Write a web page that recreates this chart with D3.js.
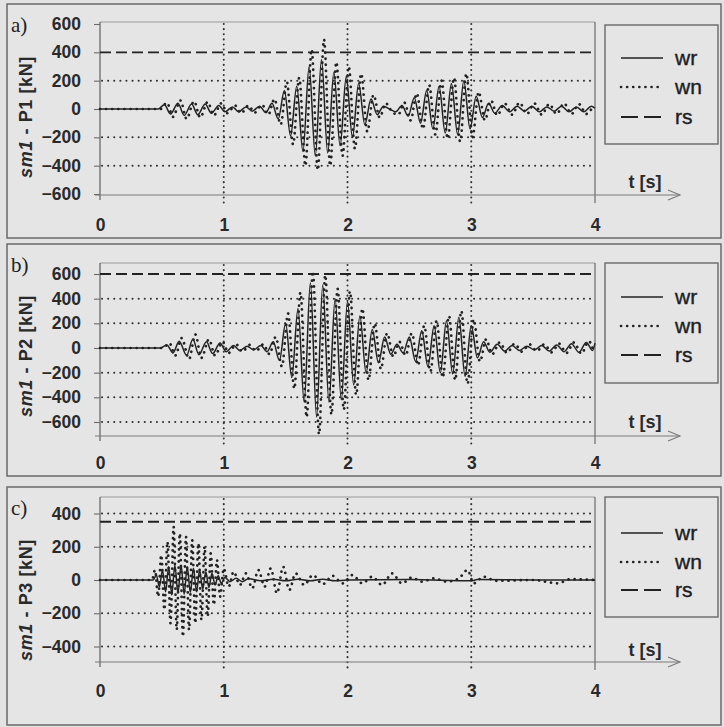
<!DOCTYPE html>
<html><head><meta charset="utf-8">
<script src="https://cdn.jsdelivr.net/npm/d3@7/dist/d3.min.js"></script>
<style>
html,body{margin:0;padding:0;background:#e3e3e3;}
svg{display:block;}
</style></head>
<body>
<script>
// ---------- DATA ----------
const xTicks = [0, 1, 2, 3, 4];
const xGrid = [1, 2, 3];
const legendLabels = ["wr", "wn", "rs"];
const panelLetters = ["a)", "b)", "c)"];
const panelNames = ["P1", "P2", "P3"];

const yTicksP1 = [600, 400, 200, 0, -200, -400, -600];
const yTicksP2 = [600, 400, 200, 0, -200, -400, -600];
const yTicksP3 = [400, 200, 0, -200, -400];
const yGridP1 = [200, -200, -400];
const yGridP2 = [400, 200, -200, -400, -600];
const yGridP3 = [400, 200, -200, -400];
const rsValues = [400, 600, 350];

// [t (s), force (kN)]
const P1_wr = [[0,0],[0.47,0],[0.52,30],[0.57,-35],[0.63,40],[0.68,-45],[0.74,35],[0.79,-40],[0.85,35],[0.90,-30],[0.96,25],[1.01,-20],[1.07,15],[1.12,-20],[1.18,15],[1.23,-15],[1.29,20],[1.34,-25],[1.39,40],[1.44,-70],[1.49,130],[1.54,-190],[1.59,160],[1.64,-300],[1.69,300],[1.74,-330],[1.79,350],[1.84,-310],[1.89,260],[1.94,-260],[1.99,230],[2.04,-200],[2.09,180],[2.14,-110],[2.19,70],[2.24,-40],[2.29,20],[2.34,0],[2.39,-20],[2.44,25],[2.49,-50],[2.54,80],[2.59,-100],[2.64,130],[2.69,-140],[2.74,160],[2.79,-170],[2.84,180],[2.89,-180],[2.94,200],[2.99,-140],[3.04,90],[3.09,-60],[3.14,40],[3.19,-30],[3.25,25],[3.31,-20],[3.37,20],[3.43,-15],[3.49,20],[3.55,-20],[3.61,15],[3.67,-15],[3.73,20],[3.79,-20],[3.85,15],[3.91,-20],[3.97,20],[4.0,5]];
const P1_wn = [[0,0],[0.49,0],[0.54,45],[0.59,-55],[0.65,60],[0.70,-70],[0.76,55],[0.81,-60],[0.87,50],[0.92,-45],[0.98,40],[1.03,-30],[1.09,25],[1.14,-30],[1.20,25],[1.25,-25],[1.31,30],[1.36,-40],[1.41,70],[1.46,-110],[1.51,190],[1.56,-250],[1.61,220],[1.66,-400],[1.71,420],[1.76,-430],[1.81,490],[1.86,-400],[1.91,330],[1.96,-330],[2.01,300],[2.06,-280],[2.11,250],[2.16,-160],[2.21,100],[2.26,-60],[2.31,40],[2.36,-20],[2.41,-40],[2.46,45],[2.51,-80],[2.56,110],[2.61,-140],[2.66,170],[2.71,-180],[2.76,200],[2.81,-210],[2.86,220],[2.91,-230],[2.96,250],[3.01,-200],[3.06,120],[3.11,-80],[3.16,60],[3.21,-45],[3.27,40],[3.33,-40],[3.39,45],[3.45,-35],[3.51,40],[3.57,-40],[3.63,35],[3.69,-35],[3.75,40],[3.81,-35],[3.87,35],[3.93,-35],[3.99,30]];

const P2_wr = [[0,0],[0.49,0],[0.54,25],[0.59,-40],[0.64,55],[0.70,-60],[0.75,70],[0.80,-55],[0.86,50],[0.91,-45],[0.97,40],[1.02,-30],[1.08,20],[1.13,-20],[1.19,15],[1.24,-15],[1.30,20],[1.35,-30],[1.40,50],[1.45,-100],[1.50,200],[1.55,-240],[1.60,320],[1.65,-440],[1.70,530],[1.75,-560],[1.80,510],[1.85,-440],[1.90,400],[1.95,-420],[2.00,380],[2.05,-300],[2.10,260],[2.15,-200],[2.20,150],[2.25,-120],[2.30,90],[2.35,-50],[2.40,30],[2.45,-40],[2.50,90],[2.55,-110],[2.60,140],[2.65,-150],[2.70,180],[2.75,-200],[2.80,220],[2.85,-210],[2.90,250],[2.95,-230],[3.00,180],[3.05,-80],[3.10,50],[3.15,-35],[3.21,30],[3.27,-25],[3.33,20],[3.39,-20],[3.45,15],[3.51,-15],[3.57,20],[3.63,-25],[3.69,25],[3.75,-30],[3.81,35],[3.87,-35],[3.93,45],[3.98,-20],[4.0,40]];
const P2_wn = [[0,0],[0.51,0],[0.56,40],[0.61,-60],[0.66,80],[0.72,-90],[0.77,110],[0.82,-80],[0.88,70],[0.93,-60],[0.99,50],[1.04,-40],[1.10,30],[1.15,-30],[1.21,25],[1.26,-25],[1.32,30],[1.37,-50],[1.42,90],[1.47,-150],[1.52,280],[1.57,-330],[1.62,450],[1.67,-560],[1.72,620],[1.77,-700],[1.82,590],[1.87,-540],[1.92,480],[1.97,-500],[2.02,460],[2.07,-380],[2.12,320],[2.17,-260],[2.22,200],[2.27,-170],[2.32,120],[2.37,-70],[2.42,50],[2.47,-60],[2.52,120],[2.57,-140],[2.62,180],[2.67,-190],[2.72,220],[2.77,-240],[2.82,260],[2.87,-260],[2.92,300],[2.97,-290],[3.02,230],[3.07,-110],[3.12,70],[3.17,-50],[3.23,45],[3.29,-40],[3.35,35],[3.41,-30],[3.47,30],[3.53,-25],[3.59,30],[3.65,-35],[3.71,35],[3.77,-40],[3.83,45],[3.89,-45],[3.95,55],[3.99,-30]];

const P3_wr = [[0,0],[0.43,0],[0.455,30],[0.48,-40],[0.505,60],[0.53,-70],[0.555,80],[0.58,-90],[0.605,90],[0.63,-80],[0.655,90],[0.68,-85],[0.705,80],[0.73,-75],[0.755,70],[0.78,-70],[0.805,60],[0.83,-55],[0.855,50],[0.88,-45],[0.905,40],[0.93,-30],[0.955,25],[0.98,-20],[1.01,15],[1.05,-10],[1.10,10],[1.15,-10],[1.20,8],[1.30,-5],[1.40,5],[1.50,-5],[1.60,5],[1.70,-5],[1.80,5],[1.90,-5],[2.0,0],[2.5,3],[3.0,-5],[3.05,3],[3.5,0],[4.0,0]];
const P3_wn = [[0,0],[0.42,0],[0.445,60],[0.47,-100],[0.495,150],[0.52,-180],[0.545,230],[0.57,-260],[0.595,320],[0.62,-300],[0.645,280],[0.67,-340],[0.695,260],[0.72,-300],[0.745,240],[0.77,-260],[0.795,220],[0.82,-240],[0.845,200],[0.87,-220],[0.895,160],[0.92,-150],[0.945,120],[0.97,-100],[1.00,70],[1.04,-40],[1.08,50],[1.13,-30],[1.18,40],[1.23,-50],[1.28,60],[1.33,-40],[1.38,70],[1.43,-80],[1.48,80],[1.53,-60],[1.58,40],[1.65,-30],[1.72,30],[1.80,-25],[1.88,25],[1.96,-20],[2.04,30],[2.12,-20],[2.20,20],[2.28,-30],[2.36,40],[2.44,-20],[2.52,15],[2.60,-10],[2.70,10],[2.80,-10],[2.90,10],[2.97,60],[3.02,-20],[3.10,20],[3.20,-5],[3.5,0],[3.70,-20],[3.80,5],[4.0,0]];

// ---------- DRAW ----------
const W = 724, H = 727;
const svg = d3.select("body").append("svg").attr("width", W).attr("height", H);
svg.append("rect").attr("width", W).attr("height", H).attr("fill", "#e3e3e3");

const INK = "#222", GRID = "#333", FRAME = "#6a6a6a";
const FONT = "'Liberation Sans', Arial, sans-serif";

const panels = [
  {box:[7,4,721,238], yDom:[-600,600], yRange:[194,24], top:22, axisY:195, labY:225, titleY:117,
   legend:[605,25,718,144], legRows:[58,87,117], tlab:[645,188],
   ticks:yTicksP1, grid:yGridP1, rs:rsValues[0], wr:P1_wr, wn:P1_wn},
  {box:[7,244,721,476], yDom:[-600,600], yRange:[422,274], top:263, axisY:436, labY:463, titleY:356,
   legend:[605,263,718,383], legRows:[297,326,355], tlab:[645,428],
   ticks:yTicksP2, grid:yGridP2, rs:rsValues[1], wr:P2_wr, wn:P2_wn},
  {box:[7,487,721,725], yDom:[-400,400], yRange:[646.5,513.5], top:497, axisY:662, labY:691, titleY:600,
   legend:[605,497,718,617], legRows:[533,562,590], tlab:[645,656],
   ticks:yTicksP3, grid:yGridP3, rs:rsValues[2], wr:P3_wr, wn:P3_wn}
];

const x = d3.scaleLinear().domain([0,4]).range([100,595]);

panels.forEach((p, i) => {
  const g = svg.append("g");
  const [bx0,by0,bx1,by1] = p.box;
  g.append("rect").attr("x",bx0).attr("y",by0).attr("width",bx1-bx0).attr("height",by1-by0)
    .attr("fill","#e5e5e5").attr("stroke",FRAME).attr("stroke-width",1.5);

  const y = d3.scaleLinear().domain(p.yDom).range(p.yRange);

  g.append("line").attr("x1",100).attr("x2",595).attr("y1",p.top).attr("y2",p.top)
    .attr("stroke","#9a9a9a").attr("stroke-width",1);

  g.selectAll(".hg").data(p.grid).enter().append("line")
    .attr("x1",102).attr("x2",593).attr("y1",d=>y(d)).attr("y2",d=>y(d))
    .attr("stroke",GRID).attr("stroke-width",2).attr("stroke-dasharray","0.1,6")
    .attr("stroke-linecap","round");

  g.selectAll(".vg").data(xGrid).enter().append("line")
    .attr("x1",d=>x(d)).attr("x2",d=>x(d)).attr("y1",p.top+2).attr("y2",p.axisY+8)
    .attr("stroke",GRID).attr("stroke-width",2).attr("stroke-dasharray","0.1,5")
    .attr("stroke-linecap","round");

  g.append("line").attr("x1",x(4)).attr("x2",x(4)).attr("y1",p.top).attr("y2",p.axisY+8)
    .attr("stroke",FRAME).attr("stroke-width",1.2);

  g.append("line").attr("x1",100).attr("x2",100).attr("y1",p.top).attr("y2",p.axisY+5)
    .attr("stroke",FRAME).attr("stroke-width",1.3);

  g.append("line").attr("x1",95).attr("x2",680).attr("y1",p.axisY).attr("y2",p.axisY)
    .attr("stroke","#7a7a7a").attr("stroke-width",1.2);
  g.append("path").attr("d",`M668,${p.axisY-5}L680,${p.axisY}L668,${p.axisY+5}`)
    .attr("fill","none").attr("stroke","#7a7a7a").attr("stroke-width",1.1);

  const ya = g.append("g").attr("transform","translate(100,0)")
    .call(d3.axisLeft(y).tickValues(p.ticks).tickSize(6).tickPadding(13).tickFormat(d3.format("d")));
  ya.select(".domain").remove();
  ya.selectAll("line").attr("stroke",FRAME).attr("stroke-width",1.1);
  ya.selectAll("text").attr("font-family",FONT).attr("font-size",17.5).attr("font-weight","bold")
    .attr("fill","#2a2a2a");

  const xa = g.append("g").attr("transform",`translate(0,${p.labY})`)
    .call(d3.axisBottom(x).tickValues(xTicks).tickSize(0).tickPadding(0).tickFormat(d3.format("d")));
  xa.select(".domain").remove();
  xa.selectAll("text").attr("dy","0.35em").attr("font-family",FONT).attr("font-size",17.5)
    .attr("font-weight","bold").attr("fill","#2a2a2a");

  g.append("line").attr("x1",x(0)).attr("x2",x(4)).attr("y1",y(p.rs)).attr("y2",y(p.rs))
    .attr("stroke",INK).attr("stroke-width",1.9).attr("stroke-dasharray","11,5");

  const line = d3.line().x(d=>x(d[0])).y(d=>y(d[1])).curve(d3.curveMonotoneX);

  g.append("path").datum(p.wn).attr("d",line).attr("fill","none")
    .attr("stroke",INK).attr("stroke-width",2.7).attr("stroke-dasharray","0.1,6")
    .attr("stroke-linecap","round");
  g.append("path").datum(p.wr).attr("d",line).attr("fill","none")
    .attr("stroke",INK).attr("stroke-width",1.5);

  g.append("text").attr("x",11).attr("y",p.box[1]+28).text(panelLetters[i])
    .attr("font-family","'Liberation Serif','Times New Roman',serif").attr("font-size",21).attr("fill","#222");

  const t = g.append("text").attr("transform",`translate(32,${p.titleY}) rotate(-90)`)
    .attr("text-anchor","middle").attr("font-family",FONT).attr("font-size",18)
    .attr("letter-spacing","0.6px")
    .attr("font-weight","bold").attr("fill","#2a2a2a");
  t.append("tspan").attr("font-style","italic").text("sm1");
  t.append("tspan").text(" - " + panelNames[i] + " [kN]");

  g.append("text").attr("x",p.tlab[0]).attr("y",p.tlab[1]).attr("text-anchor","middle")
    .attr("font-family",FONT).attr("font-size",18).attr("font-weight","bold").attr("fill","#2a2a2a")
    .text("t [s]");

  const [lx0,ly0,lx1,ly1] = p.legend;
  g.append("rect").attr("x",lx0).attr("y",ly0).attr("width",lx1-lx0).attr("height",ly1-ly0)
    .attr("fill","#e5e5e5").attr("stroke",FRAME).attr("stroke-width",1.4);
  const styles = [
    {w:1.6, dash:null},
    {w:2.6, dash:"0.1,6", cap:"round"},
    {w:1.9, dash:"17,6"}
  ];
  legendLabels.forEach((lab, k) => {
    const ly = p.legRows[k];
    const ln = g.append("line").attr("x1",621).attr("x2",663).attr("y1",ly).attr("y2",ly)
      .attr("stroke",INK).attr("stroke-width",styles[k].w);
    if (styles[k].dash) ln.attr("stroke-dasharray",styles[k].dash);
    if (styles[k].cap) ln.attr("stroke-linecap",styles[k].cap);
    g.append("text").attr("x",675).attr("y",ly).attr("dy","0.32em").text(lab)
      .attr("font-family",FONT).attr("font-size",21).attr("fill","#1e1e1e")
      .attr("stroke","#1e1e1e").attr("stroke-width",0.4);
  });
});
</script>
</body></html>
